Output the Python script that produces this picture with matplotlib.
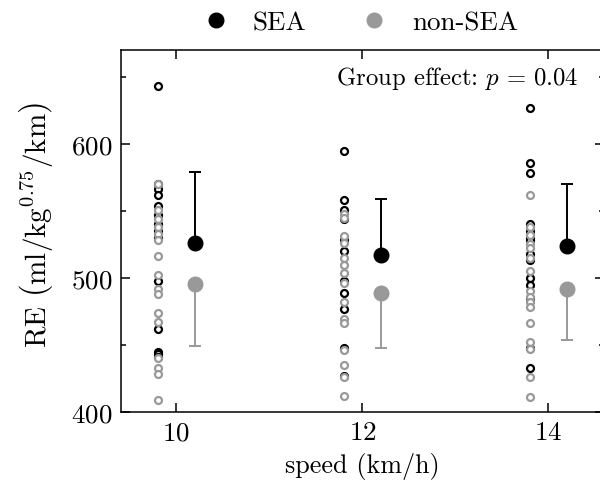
import matplotlib
matplotlib.use("Agg")
import matplotlib.pyplot as plt
from matplotlib.ticker import MultipleLocator


plt.rcParams.update(
    {
        "font.family": "serif",
        "font.serif": ["cmr10"],
        "mathtext.fontset": "cm",
        "axes.formatter.use_mathtext": True,
        "axes.unicode_minus": False,
        "font.size": 19.5,
        "axes.linewidth": 1.1,
    }
)

SPEEDS = [10, 12, 14]

# individual subjects
SEA_POINTS = [
    [643, 570, 566, 562, 554, 547, 540, 535, 530, 498, 462, 445, 443, 441],
    [595, 558, 551, 544, 528, 520, 498, 489, 477, 448, 427],
    [627, 586, 578, 540, 535, 530, 528, 518, 513, 500, 495, 485, 448, 433],
]
NON_SEA_POINTS = [
    [570, 551, 544, 538, 533, 528, 516, 502, 492, 488, 474, 467, 440, 433, 428, 409],
    [548, 545, 531, 526, 515, 510, 504, 496, 482, 469, 466, 446, 435, 426, 412],
    [562, 538, 532, 525, 522, 515, 505, 490, 486, 482, 478, 466, 452, 447, 426, 411],
]

# group means and SD
SEA_MEAN = [526, 517, 524]
SEA_SD = [53, 42, 46]
NON_SEA_MEAN = [495.5, 489, 492]
NON_SEA_SD = [46, 41, 38]

BLACK = "black"
GRAY = "0.6"

fig = plt.figure(figsize=(6.0, 4.81), dpi=100)
ax = fig.add_axes([0.201, 0.1414, 0.806, 0.7526])

for i, s in enumerate(SPEEDS):
    ax.plot([s - 0.2] * len(SEA_POINTS[i]), SEA_POINTS[i], "o", ms=5, mfc="white",
            mec=BLACK, mew=1.6, ls="none")
    ax.plot([s - 0.2] * len(NON_SEA_POINTS[i]), NON_SEA_POINTS[i], "o", ms=5, mfc="white",
            mec=GRAY, mew=1.6, ls="none")

x_mean = [s + 0.2 for s in SPEEDS]
ax.errorbar(x_mean, SEA_MEAN, yerr=[[0] * 3, SEA_SD], fmt="o", color=BLACK, ms=10.5,
            capsize=4, elinewidth=1.4, capthick=1.4, label="SEA", zorder=4)
ax.errorbar(x_mean, NON_SEA_MEAN, yerr=[NON_SEA_SD, [0] * 3], fmt="o", color=GRAY, ms=10.5,
            capsize=4, elinewidth=1.4, capthick=1.4, label="non-SEA", zorder=4)

ax.set_xlim(9.4, 14.6)
ax.set_ylim(400, 670)
ax.set_xticks(SPEEDS)
ax.yaxis.set_major_locator(MultipleLocator(100))
ax.yaxis.set_minor_locator(MultipleLocator(50))
ax.tick_params(which="both", direction="in", top=True, right=True, width=1.1)
ax.tick_params(which="major", length=6.5, pad=6)
ax.tick_params(which="minor", length=3.6)

ax.set_xlabel("speed (km/h)", fontsize=18.8, labelpad=6)
ax.set_ylabel(r"RE $\left(\mathrm{ml/kg^{0.75}/km}\right)$", fontsize=21)
ax.yaxis.set_label_coords(-0.135, 0.52)

ax.text(0.946, 0.925, r"Group effect: $p\,=\,0.04$", transform=ax.transAxes,
        ha="right", va="center", fontsize=17.8)

handles, labels = ax.get_legend_handles_labels()
handles = [h[0] for h in handles]
fig.legend(handles, labels, loc="upper center", bbox_to_anchor=(0.6, 1.026), ncol=2,
           frameon=False, fontsize=19.5, handlelength=1.0, handletextpad=0.88,
           columnspacing=2.0)

fig.savefig("out.png", dpi=100)
